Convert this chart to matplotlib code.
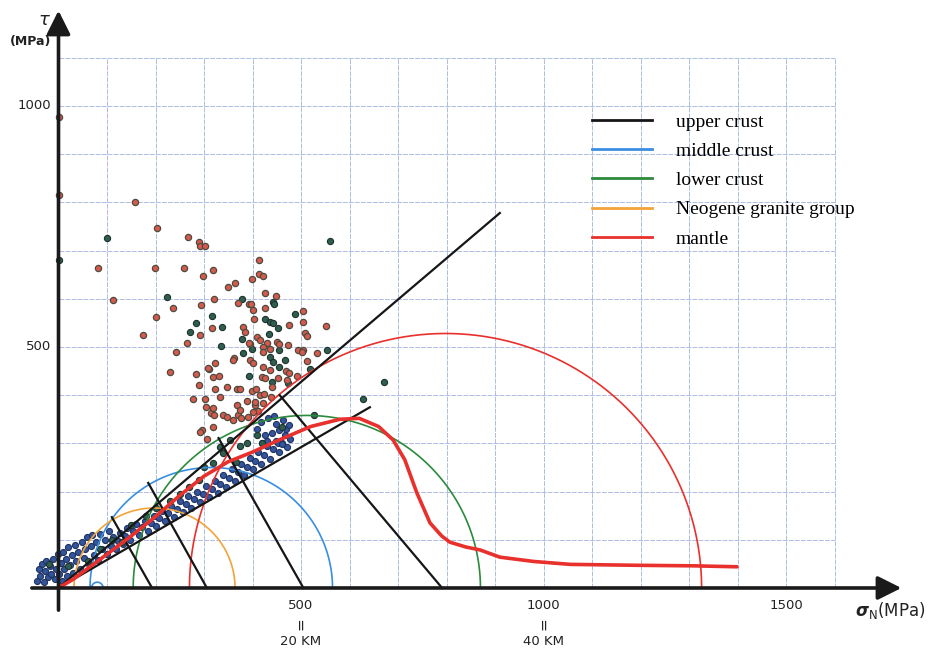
import numpy as np
import matplotlib
matplotlib.use("Agg")
import matplotlib.pyplot as plt
from matplotlib.lines import Line2D

# ---------------- data ----------------
grid_x = list(range(0, 1700, 100))
grid_y = list(range(0, 1200, 100))
ytick_vals = [500, 1000]
xtick_vals = [500, 1000, 1500]
xtick_depth = {500: "20 KM", 1000: "40 KM"}

# Coulomb-type envelopes (upper crust, black): end points from origin
env_end_x = [910, 642]
env_end_y = [778, 375]

# black normal segments (x_top, tau_top, x_bottom, tau_bottom)
seg_x_top = [110, 185, 330, 456]
seg_y_top = [147, 218, 311, 400]
seg_x_bot = [193, 306, 505, 791]

# Mohr semicircles: centre, radius, group
circ_center = [80, 315, 198, 512, 798]
circ_radius = [12, 250, 166, 358, 528]
circ_group = ["middle", "middle", "granite", "lower", "mantle"]

# mantle strength curve
mantle_x = [0, 30, 100, 150, 200, 250, 300, 350, 400, 450, 520, 580, 620, 660, 690,
            714, 739, 766, 790, 807, 840, 869, 910, 980, 1055, 1200, 1308, 1399]
mantle_y = [0, 18, 70, 108, 148, 192, 232, 262, 282, 305, 335, 350, 352, 335, 307,
            266, 197, 135, 108, 95, 85, 79, 64, 55, 49, 47, 46, 44]

red_pts = [(0,977),(0,815),(158,801),(203,747),(267,728),(290,718),(292,710),(302,710),
    (81,664),(199,664),(259,664),(298,647),(319,660),(350,624),(364,633),
    (113,598),(321,600),(370,591),(393,589),(236,581),(294,587),(201,562),
    (317,539),(381,541),(385,531),(292,525),(174,525),(265,508),(242,490),(362,477),
    (414,680),(414,651),(422,647),(399,641),(426,612),(448,606),(397,589),(401,577),
    (426,581),(504,575),(403,558),(504,552),(475,546),(508,529),(513,523),(552,544),
    (409,521),(416,515),(430,508),(450,510),(455,506),(395,506),(422,500),(422,490),
    (473,504),(494,494),(504,494),(533,488),(393,508),(436,496),(502,490),
    (360,473),(395,473),(401,467),(512,471),(323,467),(422,459),(469,450),
    (475,446),(436,452),(284,444),(310,454),(319,438),(331,440),(420,438),(426,436),
    (491,440),(230,448),(309,456),(471,432),(453,435),(440,416),
    (290,421),(323,413),(333,396),(347,417),(368,413),(374,413),(399,409),(407,413),
    (416,400),(424,402),(438,396),(277,392),(302,392),(304,376),(368,380),(388,388),
    (405,380),(412,367),(422,384),(314,363),(321,359),(340,359),(348,355),(370,359),
    (401,365),(376,353),(319,334),(296,328),(306,309),(292,324),(319,373),(360,349),
    (374,369),(391,355),(405,386)]

green_pts = [(0,680),(100,726),(224,604),(379,600),(317,564),(284,550),(337,541),(271,531),
    (378,516),(335,502),(380,488),(442,593),(445,589),(488,568),(426,558),(436,552),
    (442,550),(453,539),(434,527),(399,496),(455,494),(553,494),(436,479),(442,469),
    (467,473),(455,459),(393,440),(440,427),(473,425),(519,454),(560,720),(671,427),
    (628,392),(527,359),
    (319,259),(354,307),(388,301),(333,293),(300,250),(340,280),(375,295),(410,318),
    (250,195),(270,210),(200,165),(150,130),(110,100),(85,80),(230,180),(290,225),
    (365,262),(420,300),(460,335),(180,150),(130,95),(60,55),(20,45),(-20,50)]

blue_pts = [(-45,15),(-40,40),(-38,25),(-35,50),(-30,12),(-28,35),(-25,55),(-22,22),(-18,45),
    (-15,30),(-12,60),(-8,18),(-5,40),(-2,70),(2,28),(5,52),(8,15),(10,75),(12,40),(15,60),
    (18,25),(20,85),(24,48),(27,68),(30,32),(34,90),(37,55),(40,75),(44,40),(48,95),(52,62),
    (55,80),(58,105),(62,50),(66,88),(70,110),(74,68),(78,95),(82,58),(86,112),(90,80),
    (95,100),(100,70),(104,118),(108,88),(112,105),
    (118,80),(122,98),(126,115),(132,92),(138,108),(142,125),(148,100),(154,118),(160,132),
    (166,110),(172,126),(178,140),(184,118),(190,135),(196,150),(202,128),(208,146),(214,160),
    (220,138),(226,155),(232,170),(238,148),(244,164),(250,180),(256,158),(262,175),(268,190),
    (274,166),(280,184),(286,200),(292,178),(298,195),(304,212),(310,188),(316,206),(322,222),
    (328,198),(334,216),(340,234),(346,210),(352,228),(358,246),(364,222),(370,240),(376,258),
    (382,234),(388,252),(394,270),(400,246),(406,264),(412,282),(418,258),(424,276),(430,294),
    (436,268),(442,288),(448,306),(454,282),(460,300),(466,318),(472,292),(478,310),
    (410,330),(418,345),(425,318),(432,352),(440,322),(448,340),(455,328),(462,348),(469,330),
    (476,338),(452,300),(461,299),(430,305),(445,356),(420,300)]

legend_labels = ["upper crust", "middle crust", "lower crust", "Neogene granite group", "mantle"]

# ---------------- style ----------------
C_BLACK = "#161616"
C_BLUE = "#3a8ee0"
C_GREEN = "#2c8a3c"
C_ORANGE = "#f2a43a"
C_RED = "#e8302c"
group_color = {"middle": C_BLUE, "lower": C_GREEN, "granite": C_ORANGE, "mantle": C_RED}

fig = plt.figure(figsize=(9.36, 6.54), dpi=100)
x0, x1, y0, y1 = -60, 1760, -55, 1200
ax = fig.add_axes([29.4/936, (654-614.5)/654, (912.1-29.4)/936, (614.5-9.6)/654])
ax.set_xlim(x0, x1)
ax.set_ylim(y0, y1)
ax.axis("off")

# grid
gcol = "#aebde0"
ax.vlines(grid_x, 0, max(grid_y), colors=gcol, lw=0.7, linestyles=(0, (5, 1.2)), zorder=1)
ax.hlines(grid_y, 0, max(grid_x), colors=gcol, lw=0.7, linestyles=(0, (5, 1.2)), zorder=1)

# scatter
rp = np.array(red_pts); gp = np.array(green_pts); bp = np.array(blue_pts)
ax.scatter(bp[:, 0], bp[:, 1], s=19, c="#34559c", edgecolors="#1f3262", linewidths=0.8, zorder=3)
ax.scatter(gp[:, 0], gp[:, 1], s=20, c="#2f5e50", edgecolors="#1c332c", linewidths=0.8, zorder=3)
ax.scatter(rp[:, 0], rp[:, 1], s=20, c="#d45a4e", edgecolors="#4f4a3e", linewidths=0.9, zorder=3)

# circles
theta = np.linspace(0, np.pi, 300)
for c, r, g in zip(circ_center, circ_radius, circ_group):
    ax.plot(c + r*np.cos(theta), r*np.sin(theta), color=group_color[g], lw=1.2, zorder=4)

# envelopes
for ex, ey in zip(env_end_x, env_end_y):
    ax.plot([0, ex], [0, ey], color=C_BLACK, lw=1.6, zorder=5)
for xt, yt, xb in zip(seg_x_top, seg_y_top, seg_x_bot):
    ax.plot([xt, xb], [yt, 0], color=C_BLACK, lw=1.6, zorder=5)

# mantle curve
ax.plot(mantle_x, mantle_y, color=C_RED, lw=2.6, zorder=6, solid_capstyle="round")

# axes with arrows
ap = dict(arrowstyle="-|>,head_length=0.8,head_width=0.4", lw=2.6, color="#1a1a1a",
          shrinkA=0, shrinkB=0, mutation_scale=18)
ax.annotate("", xy=(1738, 0), xytext=(-55, 0), arrowprops=ap, zorder=7)
ax.annotate("", xy=(0, 1198), xytext=(0, -46), arrowprops=ap, zorder=7)

# tick labels
tfont = dict(fontsize=9.5, color="#222222", family="DejaVu Sans")
for v in ytick_vals:
    ax.text(-16, v, str(v), ha="right", va="center", clip_on=False, **tfont)
for v in xtick_vals:
    ax.text(v, -36, str(v), ha="center", va="center", clip_on=False, **tfont)
    if v in xtick_depth:
        ax.text(v, -74, "=", rotation=90, ha="center", va="center", clip_on=False,
                fontsize=11, color="#222222")
        ax.text(v, -112, xtick_depth[v], ha="center", va="center", clip_on=False, **tfont)

ax.text(-29, 1178, r"$\tau$", ha="center", va="center", fontsize=13, fontweight="bold",
        color="#222222", clip_on=False)
ax.text(-57, 1133, "(MPa)", ha="center", va="center", fontsize=9, fontweight="bold",
        color="#222222", clip_on=False)
ax.text(1642, -46, r"$\boldsymbol{\sigma}_{\rm N}$(MPa)", ha="left", va="center",
        fontsize=12, color="#222222", clip_on=False)

# legend
handles = [Line2D([], [], color=C_BLACK, lw=2),
           Line2D([], [], color=C_BLUE, lw=2),
           Line2D([], [], color=C_GREEN, lw=2),
           Line2D([], [], color=C_ORANGE, lw=2),
           Line2D([], [], color=C_RED, lw=2)]
fs = 14
ax.legend(handles, legend_labels, loc="upper left",
          bbox_to_anchor=(592/936, 1-113/654), bbox_transform=fig.transFigure,
          frameon=False, borderpad=0, borderaxespad=0, handlelength=60/(fs*100/72),
          handletextpad=24/(fs*100/72), labelspacing=0.6,
          prop={"family": "Liberation Serif", "size": fs})

fig.savefig("out.png", dpi=100)
